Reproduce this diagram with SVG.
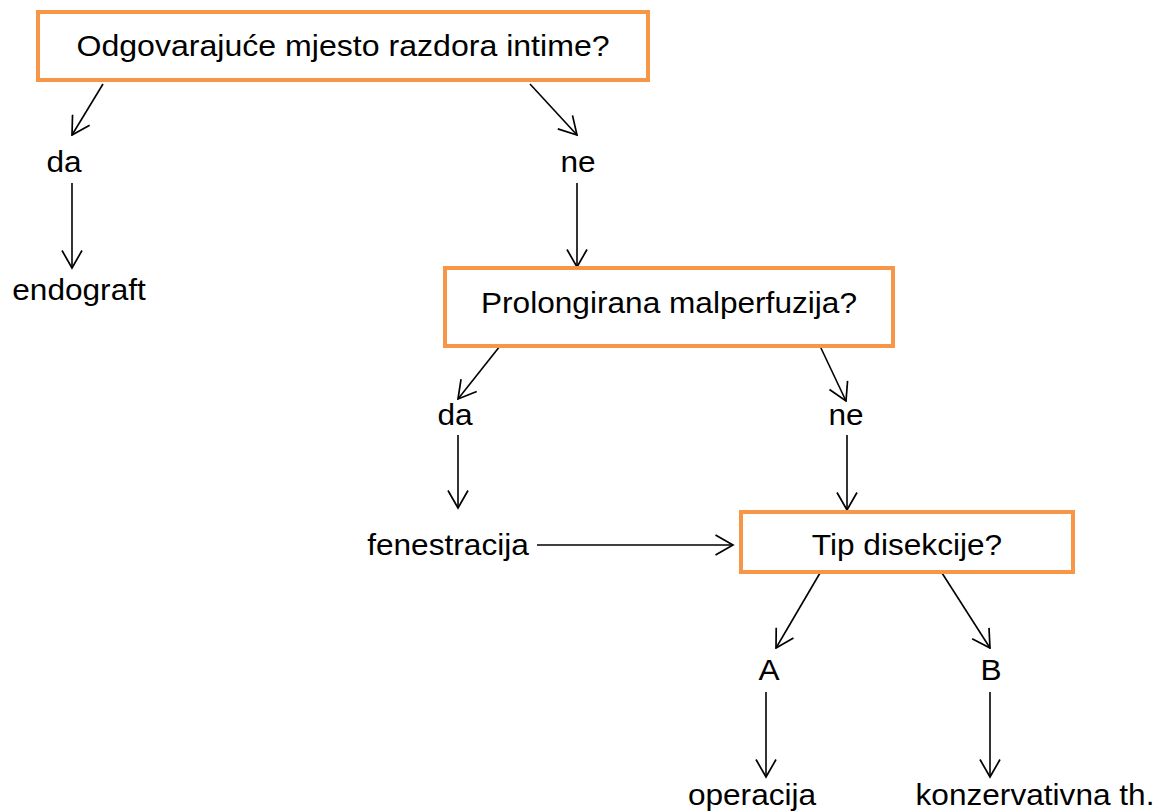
<svg xmlns="http://www.w3.org/2000/svg" width="1162" height="812" viewBox="0 0 1162 812">
<defs>
<marker id="arr" viewBox="0 0 20 22" refX="18.5" refY="11" markerWidth="20" markerHeight="22" markerUnits="userSpaceOnUse" orient="auto">
<path d="M1,1 L18.5,11 L1,21" fill="none" stroke="#000" stroke-width="1.7"/>
</marker>
<style>
.box{fill:#fff;stroke:#F79646;stroke-width:4}
.t{font-family:"Liberation Sans",Arial,sans-serif;font-size:29px;fill:#000;text-anchor:middle}
.big{font-size:30px}
.c{stroke:#000;stroke-width:1.6;fill:none;marker-end:url(#arr)}
</style>
</defs>
<rect width="1162" height="812" fill="#fff"/>
<g id="connectors">
<line class="c" x1="103" y1="84" x2="72" y2="135"/>
<line class="c" x1="72" y1="183" x2="72" y2="268"/>
<line class="c" x1="530" y1="84" x2="577" y2="135"/>
<line class="c" x1="577" y1="183" x2="577" y2="267"/>
<line class="c" x1="500" y1="346" x2="458" y2="399"/>
<line class="c" x1="458" y1="435" x2="458" y2="508"/>
<line class="c" x1="820" y1="346" x2="846" y2="401"/>
<line class="c" x1="847" y1="435" x2="847" y2="510"/>
<line class="c" x1="537" y1="545" x2="733" y2="545"/>
<line class="c" x1="820" y1="573" x2="776" y2="648"/>
<line class="c" x1="942" y1="573" x2="990" y2="648"/>
<line class="c" x1="766" y1="692" x2="766" y2="777"/>
<line class="c" x1="990" y1="692" x2="990" y2="777"/>
</g>
<g id="q1"><rect class="box" x="38" y="12" width="610" height="68"/><text class="t big" transform="translate(343,56) scale(1.07,1)">Odgovarajuće mjesto razdora intime?</text></g>
<g id="da1"><text class="t" transform="translate(64,172) scale(1.09,1)">da</text></g>
<g id="ne1"><text class="t" transform="translate(578,172) scale(1.09,1)">ne</text></g>
<g id="endograft"><text class="t" transform="translate(79,300) scale(1.09,1)">endograft</text></g>
<g id="q2"><rect class="box" x="445" y="268" width="448" height="78"/><text class="t" transform="translate(669,313) scale(1.09,1)">Prolongirana malperfuzija?</text></g>
<g id="da2"><text class="t" transform="translate(455,425) scale(1.09,1)">da</text></g>
<g id="ne2"><text class="t" transform="translate(846,425) scale(1.09,1)">ne</text></g>
<g id="fenestracija"><text class="t" transform="translate(448,555) scale(1.09,1)">fenestracija</text></g>
<g id="q3"><rect class="box" x="741" y="512" width="332" height="60"/><text class="t" transform="translate(907,555) scale(1.09,1)">Tip disekcije?</text></g>
<g id="A"><text class="t" transform="translate(769,680) scale(1.09,1)">A</text></g>
<g id="B"><text class="t" transform="translate(991,680) scale(1.09,1)">B</text></g>
<g id="operacija"><text class="t" transform="translate(752,805) scale(1.09,1)">operacija</text></g>
<g id="konz"><text class="t" transform="translate(1035,805) scale(1.09,1)">konzervativna th.</text></g>
</svg>
